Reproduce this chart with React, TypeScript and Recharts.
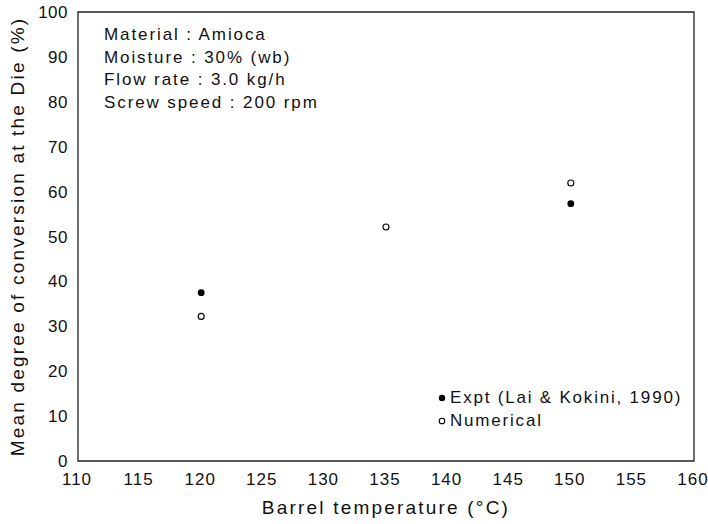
import { Label, ReferenceArea, Scatter, ScatterChart, XAxis, YAxis } from 'recharts';

document.body.style.margin = '0';

const xTicks = [110, 115, 120, 125, 130, 135, 140, 145, 150, 155, 160];
const yTicks = [0, 10, 20, 30, 40, 50, 60, 70, 80, 90, 100];

const exptTemps = [120, 150];
const exptConversion = [37.5, 57.3];
const numericalTemps = [120, 135, 150];
const numericalConversion = [32.2, 52.1, 61.9];

const notes = ['Material : Amioca', 'Moisture : 30% (wb)', 'Flow rate : 3.0 kg/h', 'Screw speed : 200 rpm'];

const expt = exptTemps.map((t, i) => ({ x: t, y: exptConversion[i] }));
const numerical = numericalTemps.map((t, i) => ({ x: t, y: numericalConversion[i] }));

const font = '"Liberation Sans", Arial, sans-serif';
const ink = '#111';

const Filled = (props: any) => <circle cx={props.cx} cy={props.cy} r={3.4} fill="#000" />;
const Open = (props: any) => <circle cx={props.cx} cy={props.cy} r={3} fill="#fff" stroke="#000" strokeWidth={1.1} />;

export default function App() {
  return (
    <div style={{ position: 'relative', width: 708, height: 524, background: '#fff', fontFamily: font, color: ink }}>
      <ScatterChart width={708} height={524} margin={{ top: 12, right: 14, left: 0, bottom: 0 }}>
        <XAxis
          type="number"
          dataKey="x"
          domain={[110, 160]}
          ticks={xTicks}
          axisLine={false}
          tickLine={false}
          tickMargin={6}
          tick={{ fill: ink, fontSize: 17, fontFamily: font, letterSpacing: 1, dx: -1 }}
          height={63}
          interval={0}
        >
          <Label value="Barrel temperature (°C)" position="insideBottom" offset={10} style={{ fill: ink, fontSize: 19, fontFamily: font, letterSpacing: 2.2 }} />
        </XAxis>
        <YAxis
          type="number"
          dataKey="y"
          domain={[0, 100]}
          ticks={yTicks}
          axisLine={false}
          tickLine={false}
          tickMargin={4}
          tick={{ fill: ink, fontSize: 17, fontFamily: font, letterSpacing: 0.5 }}
          width={78}
          interval={0}
        >
          <Label value="Mean degree of conversion at the Die (%)" angle={-90} position="insideLeft" offset={17} style={{ textAnchor: 'middle', fill: ink, fontSize: 19, fontFamily: font, letterSpacing: 2.2 }} />
        </YAxis>
        <ReferenceArea x1={110} x2={160} y1={0} y2={100} fill="none" stroke="#222" strokeWidth={1.3} ifOverflow="visible" />
        <Scatter data={numerical} shape={Open} isAnimationActive={false} />
        <Scatter data={expt} shape={Filled} isAnimationActive={false} />
      </ScatterChart>
      <div style={{ position: 'absolute', left: 104, top: 24, fontSize: 17, lineHeight: '22.5px', letterSpacing: 1.9 }}>
        {notes.map((n) => (
          <div key={n}>{n}</div>
        ))}
      </div>
      <div style={{ position: 'absolute', left: 437, top: 387, fontSize: 17, lineHeight: '22.5px', letterSpacing: 1.8 }}>
        <div style={{ display: 'flex', alignItems: 'center' }}>
          <svg width={13} height={10}><circle cx={5} cy={5} r={3.2} fill="#000" /></svg>
          <span>Expt (Lai &amp; Kokini, 1990)</span>
        </div>
        <div style={{ display: 'flex', alignItems: 'center' }}>
          <svg width={13} height={10}><circle cx={5} cy={5} r={2.8} fill="#fff" stroke="#000" strokeWidth={1.1} /></svg>
          <span>Numerical</span>
        </div>
      </div>
    </div>
  );
}
